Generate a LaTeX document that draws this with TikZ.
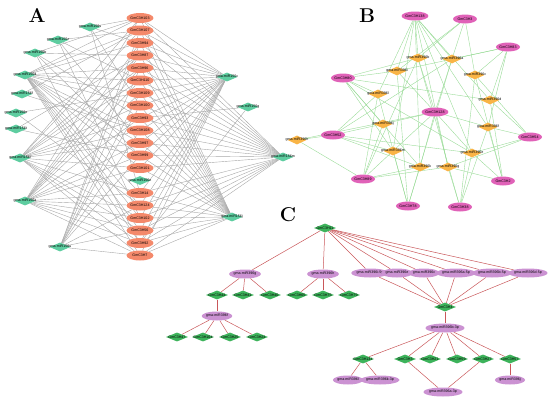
\documentclass[tikz,border=0pt]{standalone}
\usepackage{fontspec}
\setsansfont{Liberation Sans}
\usetikzlibrary{shapes.geometric}
\definecolor{salmon}{HTML}{F4896B}
\definecolor{aqua}{HTML}{5ECDA0}
\definecolor{greyline}{HTML}{A8A8A8}
\definecolor{rose}{HTML}{E062B8}
\definecolor{amber}{HTML}{F9B446}
\definecolor{leaf}{HTML}{9ADB98}
\definecolor{forest}{HTML}{3DB35B}
\definecolor{lilac}{HTML}{CB92D2}
\definecolor{brick}{HTML}{C9575A}
\pgfdeclarelayer{bg}\pgfsetlayers{bg,main}
\newcommand\genesA{h103,h107,h94,h87,h96,h110,h109,h100,h93,h108,h97,h99,h101,h14,h124,h102,h56,h92,h7}

\begin{document}
\begin{tikzpicture}[x=1pt,y=-1pt,font=\sffamily\fontsize{3.6}{4}\selectfont,
  gene/.style={ellipse,fill=salmon,inner sep=0,minimum width=27,minimum height=10},
  mirA/.style={diamond,fill=aqua,inner sep=0,minimum width=21,minimum height=9},
  geneB/.style={ellipse,fill=rose,inner sep=0,minimum width=24,minimum height=9},
  mirB/.style={diamond,fill=amber,inner sep=0,minimum width=19,minimum height=9},
  geneC/.style={diamond,fill=forest,inner sep=0,minimum width=22,minimum height=9},
  mirC/.style={ellipse,fill=lilac,inner sep=0,minimum width=28,minimum height=9},
  tag/.style={font=\rmfamily\bfseries\fontsize{20}{20}\selectfont},
  edgeA/.style={greyline,line width=.4pt},
  edgeB/.style={leaf,line width=.4pt},
  edgeC/.style={brick,line width=.5pt}]
\useasboundingbox (0,0) rectangle (550,400);
\node[tag] (labA) at (37,15) {A};
\node[tag] (labB) at (367,16) {B};
\node[tag] (labC) at (288,215) {C};
% panel A
\node[gene] (h103) at (140,18) {GmC3H103};
\node[gene] (h107) at (140,30.5) {GmC3H107};
\node[gene] (h94) at (140,43) {GmC3H94};
\node[gene] (h87) at (140,55.5) {GmC3H87};
\node[gene] (h96) at (140,68) {GmC3H96};
\node[gene] (h110) at (140,80.5) {GmC3H110};
\node[gene] (h109) at (140,93) {GmC3H109};
\node[gene] (h100) at (140,105.5) {GmC3H100};
\node[gene] (h93) at (140,118) {GmC3H93};
\node[gene] (h108) at (140,130.5) {GmC3H108};
\node[gene] (h97) at (140,143) {GmC3H97};
\node[gene] (h99) at (140,155.5) {GmC3H99};
\node[gene] (h101) at (140,168) {GmC3H101};
\node[mirA,label={center:gma-miR156n}] (m156n) at (140,180.5) {};
\node[gene] (h14) at (140,193) {GmC3H14};
\node[gene] (h124) at (140,205.5) {GmC3H124};
\node[gene] (h102) at (140,218) {GmC3H102};
\node[gene] (h56) at (140,230.5) {GmC3H56};
\node[gene] (h92) at (140,243) {GmC3H92};
\node[gene] (h7) at (140,255.5) {GmC3H7};
\node[mirA,label={center:gma-miR156s}] (m156s) at (90,27) {};
\node[mirA,label={center:gma-miR156z}] (m156z) at (58,40) {};
\node[mirA,label={center:gma-miR156b}] (m156b) at (35,53) {};
\node[mirA,label={center:gma-miR156d}] (m156d) at (25,75) {};
\node[mirA,label={center:gma-miR156f}] (m156f) at (22,94) {};
\node[mirA,label={center:gma-miR156o}] (m156o) at (16,113) {};
\node[mirA,label={center:gma-miR156t}] (m156t) at (16,129) {};
\node[mirA,label={center:gma-miR156i}] (m156i) at (20,158) {};
\node[mirA,label={center:gma-miR156a}] (m156a) at (25,201) {};
\node[mirA,label={center:gma-miR156u}] (m156u) at (60,247) {};
\node[mirA,label={center:gma-miR156c}] (m156c) at (227,77) {};
\node[mirA,label={center:gma-miR156g}] (m156g) at (248,107) {};
\node[mirA,label={center:gma-miR156m}] (m156m) at (283,157) {};
\node[mirA,label={center:gma-miR156j}] (m156j) at (232,217) {};
% panel B
\node[geneB] (b138) at (415,16) {GmC3H138};
\node[geneB] (b3) at (465,19) {GmC3H3};
\node[geneB] (b83) at (508,47) {GmC3H83};
\node[geneB] (b80) at (343,78) {GmC3H80};
\node[geneB] (b128) at (435,112) {GmC3H128};
\node[geneB] (b52) at (333,135) {GmC3H52};
\node[geneB] (b54) at (530,137) {GmC3H54};
\node[geneB] (b89) at (363,179) {GmC3H89};
\node[geneB] (b2) at (503,181) {GmC3H2};
\node[geneB] (b78) at (408,206) {GmC3H78};
\node[geneB] (b38) at (460,207) {GmC3H38};
\node[mirB,label={center:gma-miR396b}] (r396b) at (418,58) {};
\node[mirB,label={center:gma-miR396a}] (r396a) at (452,59) {};
\node[mirB,label={center:gma-miR396i}] (r396i) at (397,71) {};
\node[mirB,label={center:gma-miR396c}] (r396c) at (475,75) {};
\node[mirB,label={center:gma-miR396l}] (r396l) at (378,94) {};
\node[mirB,label={center:gma-miR396d}] (r396d) at (490,100) {};
\node[mirB,label={center:gma-miR396j}] (r396j) at (383,124) {};
\node[mirB,label={center:gma-miR396f}] (r396f) at (488,127) {};
\node[mirB,label={center:gma-miR396h}] (r396h) at (297,140) {};
\node[mirB,label={center:gma-miR396m}] (r396m) at (393,151) {};
\node[mirB,label={center:gma-miR396e}] (r396e) at (472,153) {};
\node[mirB,label={center:gma-miR396k}] (r396k) at (420,167) {};
\node[mirB,label={center:gma-miR396g}] (r396g) at (448,167) {};
% panel C
\node[geneC,label={center:GmC3H11}] (c11) at (325,228) {};
\node[mirC] (s396g) at (245,274) {gma-miR396g};
\node[mirC] (s396h) at (323,274) {gma-miR396h};
\node[mirC] (s396i) at (370,273) {gma-miR396i-5p};
\node[mirC] (s396e) at (397,273) {gma-miR396e};
\node[mirC] (s396c) at (424,273) {gma-miR396c};
\node[mirC] (s396a) at (456,273) {gma-miR396a-5p};
\node[mirC] (s396b) at (492,273) {gma-miR396b-5p};
\node[mirC] (s396d) at (528,273) {gma-miR396d-5p};
\node[geneC,label={center:GmC3H44}] (c44) at (217,295) {};
\node[geneC,label={center:GmC3H41}] (c41) at (243,295) {};
\node[geneC,label={center:GmC3H40}] (c40) at (270,295) {};
\node[geneC,label={center:GmC3H65}] (c65) at (297,295) {};
\node[geneC,label={center:GmC3H75}] (c75) at (323,295) {};
\node[geneC,label={center:GmC3H79}] (c79) at (349,295) {};
\node[mirC] (s396f) at (217,316) {gma-miR396f};
\node[geneC,label={center:GmC3H47}] (c47) at (177,337) {};
\node[geneC,label={center:GmC3H104}] (c104) at (203,337) {};
\node[geneC,label={center:GmC3H25}] (c25) at (230,337) {};
\node[geneC,label={center:GmC3H24}] (c24) at (257,337) {};
\node[geneC,label={center:GmC3H4}] (c4) at (445,307) {};
\node[mirC] (s396b3) at (445,328) {gma-miR396b-3p};
\node[geneC,label={center:GmC3H134}] (c134) at (363,359) {};
\node[geneC,label={center:GmC3H3}] (c3) at (405,359) {};
\node[geneC,label={center:GmC3H21}] (c21) at (430,359) {};
\node[geneC,label={center:GmC3H59}] (c59) at (457,359) {};
\node[geneC,label={center:GmC3H27}] (c27) at (483,359) {};
\node[geneC,label={center:GmC3H57}] (c57) at (510,359) {};
\node[mirC] (s396l) at (348,380) {gma-miR396l};
\node[mirC] (s396k) at (380,380) {gma-miR396k-3p};
\node[mirC] (s396a3) at (443,392) {gma-miR396a-3p};
\node[mirC] (s396j) at (510,380) {gma-miR396j};
\begin{pgfonlayer}{bg}
% A edges
\foreach \t in {h103,h94,h100,h14} \draw[edgeA] (m156s)--(\t);
\foreach \t in {h107,h110,h97,h102} \draw[edgeA] (m156z)--(\t);
\foreach \t in {h103,h87,h93,h99,h92} \draw[edgeA] (m156b)--(\t);
\foreach \t in {h103,h107,h94,h96,h110,h109,h100,h108,h97,h99,h101,h14,h124,h102,h56,h92,h7} \draw[edgeA] (m156d)--(\t);
\foreach \t in {h107,h108} \draw[edgeA] (m156f)--(\t);
\foreach \t in {h109,h124} \draw[edgeA] (m156o)--(\t);
\foreach \t in {h87,h99} \draw[edgeA] (m156t)--(\t);
\foreach \t in {h103,h107,h87,h96,h110,h100,h93,h108,h97,h101,h14,h102,h56,h92,h7} \draw[edgeA] (m156i)--(\t);
\foreach \t in {h103,h94,h87,h96,h110,h109,h93,h97,h99,h101,h14,h124,h102,h56,h92,h7} \draw[edgeA] (m156a)--(\t);
\foreach \t in {h107,h94,h96,h109,h100,h108,h99,h124,h56,h7} \draw[edgeA] (m156u)--(\t);
\foreach \t in \genesA \draw[edgeA] (m156c)--(\t);
\foreach \t in {h93,h92} \draw[edgeA] (m156g)--(\t);
\foreach \t in \genesA \draw[edgeA] (m156m)--(\t);
\foreach \t in \genesA \draw[edgeA] (m156j)--(\t);
% B edges
\foreach \t in {r396b,r396a,r396i,r396l,r396m,r396k,r396g,r396e,r396f,r396d} \draw[edgeB] (b138)--(\t);
\foreach \t in {r396b,r396a,r396c,r396i} \draw[edgeB] (b3)--(\t);
\foreach \t in {r396i,r396a,r396c,r396d,r396f} \draw[edgeB] (b83)--(\t);
\foreach \t in {r396i,r396b,r396l,r396m,r396j,r396k,r396e,r396d} \draw[edgeB] (b80)--(\t);
\foreach \t in {r396b,r396a,r396i,r396j,r396m,r396k,r396g,r396e,r396f,r396h} \draw[edgeB] (b128)--(\t);
\foreach \t in {r396h,r396j,r396l,r396m,r396k,r396e,r396a} \draw[edgeB] (b52)--(\t);
\foreach \t in {r396c,r396d,r396f,r396e,r396g} \draw[edgeB] (b54)--(\t);
\foreach \t in {r396h,r396l,r396m,r396j,r396k,r396g,r396b} \draw[edgeB] (b89)--(\t);
\foreach \t in {r396e,r396f,r396d,r396g,r396c} \draw[edgeB] (b2)--(\t);
\foreach \t in {r396i,r396l,r396m,r396k,r396a} \draw[edgeB] (b78)--(\t);
\foreach \t in {r396g,r396e,r396f,r396c,r396b} \draw[edgeB] (b38)--(\t);
% C edges
\foreach \t in {s396g,s396h,s396i,s396e,s396c,s396a,s396b,s396d} \draw[edgeC] (c11)--(\t);
\foreach \t in {c44,c41,c40} \draw[edgeC] (s396g)--(\t);
\foreach \t in {c65,c75,c79} \draw[edgeC] (s396h)--(\t);
\draw[edgeC] (c44)--(s396f);
\foreach \t in {c47,c104,c25,c24} \draw[edgeC] (s396f)--(\t);
\foreach \t in {s396i,s396e,s396c,s396a,s396b,s396d} \draw[edgeC] (c4)--(\t);
\draw[edgeC] (c4)--(s396b3);
\foreach \t in {c134,c3,c21,c59,c27,c57} \draw[edgeC] (s396b3)--(\t);
\draw[edgeC] (c134)--(s396l);\draw[edgeC] (c134)--(s396k);
\draw[edgeC] (c3)--(s396a3);\draw[edgeC] (c27)--(s396a3);
\draw[edgeC] (c57)--(s396j);
\end{pgfonlayer}
\end{tikzpicture}
\end{document}
